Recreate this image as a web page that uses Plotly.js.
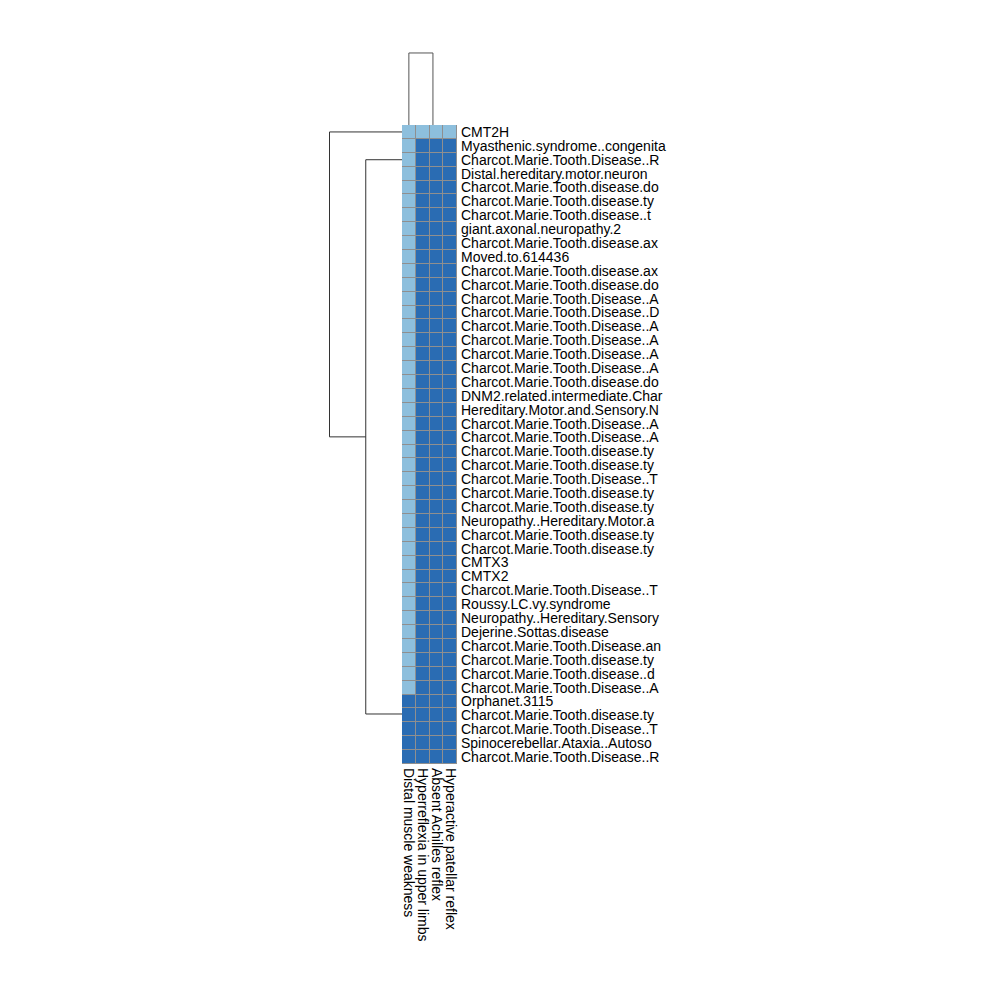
<!DOCTYPE html>
<html>
<head>
<meta charset="utf-8">
<script src="https://cdn.plot.ly/plotly-3.0.1.min.js"></script>
<style>html,body{margin:0;padding:0;background:#fff;}#chart{width:1000px;height:1000px;}</style>
</head>
<body>
<div id="chart"></div>
<script>
// ---- data ----
const colLabels = ["Distal muscle weakness", "Hyperreflexia in upper limbs", "Absent Achilles reflex", "Hyperactive patellar reflex"];
const rowLabels = [
  "CMT2H",
  "Myasthenic.syndrome..congenita",
  "Charcot.Marie.Tooth.Disease..R",
  "Distal.hereditary.motor.neuron",
  "Charcot.Marie.Tooth.disease.do",
  "Charcot.Marie.Tooth.disease.ty",
  "Charcot.Marie.Tooth.disease..t",
  "giant.axonal.neuropathy.2",
  "Charcot.Marie.Tooth.disease.ax",
  "Moved.to.614436",
  "Charcot.Marie.Tooth.disease.ax",
  "Charcot.Marie.Tooth.disease.do",
  "Charcot.Marie.Tooth.Disease..A",
  "Charcot.Marie.Tooth.Disease..D",
  "Charcot.Marie.Tooth.Disease..A",
  "Charcot.Marie.Tooth.Disease..A",
  "Charcot.Marie.Tooth.Disease..A",
  "Charcot.Marie.Tooth.Disease..A",
  "Charcot.Marie.Tooth.disease.do",
  "DNM2.related.intermediate.Char",
  "Hereditary.Motor.and.Sensory.N",
  "Charcot.Marie.Tooth.Disease..A",
  "Charcot.Marie.Tooth.Disease..A",
  "Charcot.Marie.Tooth.disease.ty",
  "Charcot.Marie.Tooth.disease.ty",
  "Charcot.Marie.Tooth.Disease..T",
  "Charcot.Marie.Tooth.disease.ty",
  "Charcot.Marie.Tooth.disease.ty",
  "Neuropathy..Hereditary.Motor.a",
  "Charcot.Marie.Tooth.disease.ty",
  "Charcot.Marie.Tooth.disease.ty",
  "CMTX3",
  "CMTX2",
  "Charcot.Marie.Tooth.Disease..T",
  "Roussy.LC.vy.syndrome",
  "Neuropathy..Hereditary.Sensory",
  "Dejerine.Sottas.disease",
  "Charcot.Marie.Tooth.Disease.an",
  "Charcot.Marie.Tooth.disease.ty",
  "Charcot.Marie.Tooth.disease..d",
  "Charcot.Marie.Tooth.Disease..A",
  "Orphanet.3115",
  "Charcot.Marie.Tooth.disease.ty",
  "Charcot.Marie.Tooth.Disease..T",
  "Spinocerebellar.Ataxia..Autoso",
  "Charcot.Marie.Tooth.Disease..R"
];
// values per column (0 = light, 1 = dark), one entry per row
const distalMuscleWeakness = [0,0,0,0,0,0,0,0,0,0,0,0,0,0,0,0,0,0,0,0,0,0,0,0,0,0,0,0,0,0,0,0,0,0,0,0,0,0,0,0,0,1,1,1,1,1];
const hyperreflexiaUpper   = [0,1,1,1,1,1,1,1,1,1,1,1,1,1,1,1,1,1,1,1,1,1,1,1,1,1,1,1,1,1,1,1,1,1,1,1,1,1,1,1,1,1,1,1,1,1];
const absentAchilles       = [0,1,1,1,1,1,1,1,1,1,1,1,1,1,1,1,1,1,1,1,1,1,1,1,1,1,1,1,1,1,1,1,1,1,1,1,1,1,1,1,1,1,1,1,1,1];
const hyperactivePatellar  = [0,1,1,1,1,1,1,1,1,1,1,1,1,1,1,1,1,1,1,1,1,1,1,1,1,1,1,1,1,1,1,1,1,1,1,1,1,1,1,1,1,1,1,1,1,1];

// row dendrogram merges (position in row index units, heights)
const rowMergeA  = [2.0, 0];
const rowMergeHA = [0, 0];
const rowMergeB  = [41.9, 21.95];
const rowMergeHB = [0, 1];
const rowMergeH  = [1, 2];
// column dendrogram merges
const colMergeA  = [0];
const colMergeHA = [0];
const colMergeB  = [1.75];
const colMergeHB = [0];
const colMergeH  = [1];

// ---- build ----
const columns = [distalMuscleWeakness, hyperreflexiaUpper, absentAchilles, hyperactivePatellar];
const nRows = rowLabels.length, nCols = colLabels.length;
const z = [];
for (let r = 0; r < nRows; r++) { z.push(columns.map(c => c[r])); }
const rowIdx = rowLabels.map((_, i) => i);
const colIdx = colLabels.map((_, i) => i);

const light = "#8dbfdd", dark = "#2a6cb3", gridc = "#8f8f8f", dcol = "#333333";

const heat = {
  type: "heatmap", z: z, x: colIdx, y: rowIdx,
  colorscale: [[0, light], [0.5, light], [0.5, dark], [1, dark]],
  zmin: 0, zmax: 1, showscale: false, xgap: 1, ygap: 1,
  xaxis: "x", yaxis: "y", hoverinfo: "skip"
};

function dendroXY(A, HA, B, HB, H, horizontal) {
  const xs = [], ys = [];
  for (let i = 0; i < A.length; i++) {
    const pts = [[HA[i], A[i]], [H[i], A[i]], [H[i], B[i]], [HB[i], B[i]]];
    pts.forEach(p => {
      if (horizontal) { xs.push(p[0]); ys.push(p[1]); } else { xs.push(p[1]); ys.push(p[0]); }
    });
    xs.push(null); ys.push(null);
  }
  return [xs, ys];
}
const rd = dendroXY(rowMergeA, rowMergeHA, rowMergeB, rowMergeHB, rowMergeH, true);
const cd = dendroXY(colMergeA, colMergeHA, colMergeB, colMergeHB, colMergeH, false);

const rowDend = { type: "scatter", mode: "lines", x: rd[0], y: rd[1], xaxis: "x2", yaxis: "y",
  line: { color: dcol, width: 1 }, hoverinfo: "skip", showlegend: false };
const colDend = { type: "scatter", mode: "lines", x: cd[0], y: cd[1], xaxis: "x", yaxis: "y2",
  line: { color: "#555555", width: 1 }, hoverinfo: "skip", showlegend: false };

const font = { family: "Liberation Sans, Arial, sans-serif", size: 14, color: "#000" };

const layout = {
  width: 1000, height: 1000, margin: { l: 0, r: 0, t: 0, b: 0 },
  paper_bgcolor: "#fff", plot_bgcolor: "rgba(0,0,0,0)", showlegend: false,
  font: font,
  xaxis: { domain: [0.402, 0.457], range: [-0.5, nCols - 0.5], anchor: "y",
    tickvals: colIdx, ticktext: colLabels, tickangle: 90, ticks: "", showgrid: false,
    zeroline: false, showline: false, tickfont: font, fixedrange: true, ticklabelstandoff: 3 },
  yaxis: { domain: [0.236, 0.875], range: [nRows - 0.5, -0.5], anchor: "x", side: "right",
    tickvals: rowIdx, ticktext: rowLabels, ticks: "", showgrid: false, zeroline: false,
    showline: false, tickfont: font, fixedrange: true, ticklabelstandoff: 3 },
  xaxis2: { domain: [0.32, 0.402], range: [2.262, 0], anchor: "y", visible: false, fixedrange: true },
  yaxis2: { domain: [0.875, 0.96], range: [0, 1.18], anchor: "x", visible: false, fixedrange: true },
  shapes: [{ type: "rect", xref: "x", yref: "y", x0: -0.5, x1: nCols - 0.5, y0: -0.5, y1: nRows - 0.5,
    fillcolor: gridc, line: { color: gridc, width: 1 }, layer: "below" }]
};

Plotly.newPlot("chart", [heat, rowDend, colDend], layout, { displayModeBar: false, staticPlot: true });
</script>
</body>
</html>
